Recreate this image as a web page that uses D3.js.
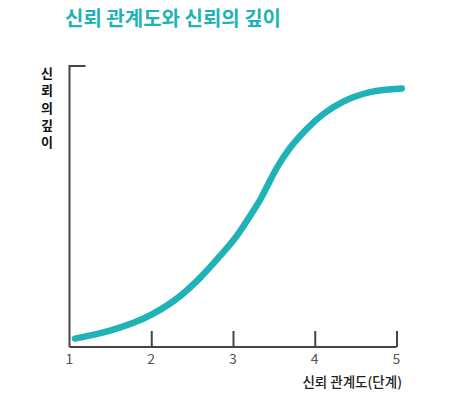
<!DOCTYPE html>
<html>
<head>
<meta charset="utf-8">
<script src="https://cdn.jsdelivr.net/npm/d3@7"></script>
<style>
  body { margin: 0; background: #fff; }
  text { font-family: "Noto Sans CJK KR", "Noto Sans", sans-serif; }
</style>
</head>
<body>
<svg id="chart"></svg>
<script>
  // data
  const levels = [1.067, 1.495, 1.997, 2.352, 2.596, 2.841, 3.045, 3.208, 3.351, 3.432, 3.535, 3.697, 3.902, 4.105, 4.349, 4.676, 5.064];
  const depth = [3.0, 5.8, 11.4, 18.1, 24.6, 32.4, 39.5, 46.6, 53.4, 58.0, 63.7, 70.8, 77.6, 82.9, 87.3, 90.7, 92.0];
  const tickLabels = [1, 2, 3, 4, 5];
  const title = "신뢰 관계도와 신뢰의 깊이";
  const xTitle = "신뢰 관계도(단계)";
  const yTitle = ["신", "뢰", "의", "깊", "이"];

  const W = 469, H = 399;
  const teal = "#1fb2b6", axisColor = "#444";

  const svg = d3.select("#chart").attr("width", W).attr("height", H);

  const x = d3.scaleLinear().domain([1, 5]).range([69.5, 396.5]);
  const y = d3.scaleLinear().domain([0, 100]).range([347, 66]);

  // title
  svg.append("text")
    .attr("x", 65).attr("y", 26)
    .attr("fill", teal)
    .attr("font-size", 20).attr("font-weight", 700)
    .text(title);

  // y axis with small cap at the top
  svg.append("path")
    .attr("d", "M" + (x(1) + 16) + "," + y(100) + "H" + x(1) + "V" + y(0))
    .attr("fill", "none").attr("stroke", axisColor).attr("stroke-width", 2);

  // x axis, ticks pointing up
  const xAxis = svg.append("g")
    .attr("transform", "translate(0," + y(0) + ")")
    .call(d3.axisTop(x).tickValues(tickLabels.slice(1)).tickSize(16).tickFormat(""));
  xAxis.select(".domain").attr("d", "M" + x(1) + ",0H" + x(5))
    .attr("stroke", axisColor).attr("stroke-width", 2);
  xAxis.selectAll(".tick line").attr("stroke", axisColor).attr("stroke-width", 2);

  svg.selectAll(".xlab")
    .data(tickLabels).enter().append("text")
    .attr("class", "xlab")
    .attr("x", d => x(d)).attr("y", 364)
    .attr("text-anchor", "middle")
    .attr("fill", "#555").attr("font-size", 14)
    .text(d => d);

  svg.append("text")
    .attr("x", 402).attr("y", 387)
    .attr("text-anchor", "end")
    .attr("fill", "#222").attr("font-size", 13.5).attr("font-weight", 500)
    .text(xTitle);

  svg.selectAll(".ylab")
    .data(yTitle).enter().append("text")
    .attr("class", "ylab")
    .attr("x", 47).attr("y", (d, i) => 78 + i * 17.3)
    .attr("text-anchor", "middle")
    .attr("fill", "#111").attr("font-size", 13).attr("font-weight", 700)
    .text(d => d);

  // curve
  const line = d3.line()
    .x(d => x(d[0]))
    .y(d => y(d[1]))
    .curve(d3.curveMonotoneX);

  svg.append("path")
    .datum(d3.zip(levels, depth))
    .attr("d", line)
    .attr("fill", "none")
    .attr("stroke", teal)
    .attr("stroke-width", 6.5)
    .attr("stroke-linecap", "round");
</script>
</body>
</html>
